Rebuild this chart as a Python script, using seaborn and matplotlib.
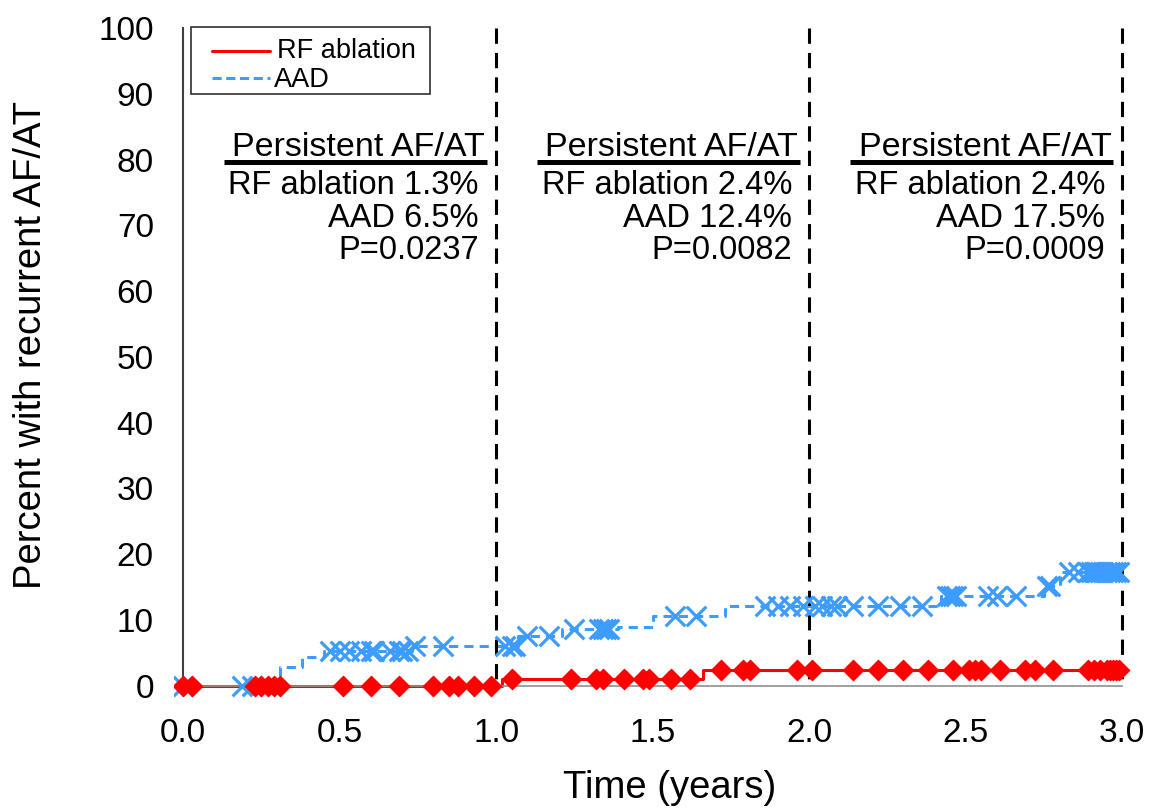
import numpy as np
import matplotlib
matplotlib.use("Agg")
import matplotlib.pyplot as plt
from matplotlib.patches import Rectangle
import seaborn as sns

# -------------------------------
# DATA
# -------------------------------

# step changes of the cumulative curves (years, percent)
rf_step_t = [0.0, 1.02, 1.66, 3.0]
rf_step_y = [0.0, 1.0, 2.4, 2.4]

aad_step_t = [0.0, 0.31, 0.38, 0.45, 0.73, 1.07, 1.21, 1.39, 1.50, 1.73, 2.42, 2.75, 2.80, 3.0]
aad_step_y = [0.0, 2.9, 4.4, 5.3, 6.1, 7.6, 8.7, 9.0, 10.6, 12.2, 13.6, 15.2, 17.3, 17.3]

# censoring times
rf_censor = [0.0, 0.03, 0.23, 0.25, 0.27, 0.29, 0.31, 0.51, 0.60, 0.69, 0.80,
             0.85, 0.88, 0.93, 0.985, 1.05, 1.24, 1.32, 1.34, 1.41, 1.47, 1.49,
             1.56, 1.62, 1.72, 1.79, 1.81, 1.96, 2.01, 2.14, 2.22, 2.30, 2.38,
             2.46, 2.51, 2.53, 2.55, 2.61, 2.69, 2.72, 2.78, 2.89, 2.91, 2.93,
             2.95, 2.96, 2.97, 2.98, 2.99]

aad_censor = [0.0, 0.19, 0.22, 0.47, 0.50, 0.53, 0.57, 0.60, 0.61, 0.66, 0.69,
              0.70, 0.72, 0.74, 0.83, 1.03, 1.05, 1.06, 1.10, 1.17, 1.25, 1.33,
              1.34, 1.35, 1.36, 1.57, 1.64, 1.86, 1.90, 1.94, 1.98, 2.02, 2.04,
              2.07, 2.09, 2.14, 2.22, 2.29, 2.36, 2.44, 2.45, 2.46, 2.47, 2.57,
              2.60, 2.66, 2.76, 2.77, 2.83, 2.86, 2.89, 2.90, 2.91, 2.92, 2.93,
              2.94, 2.95, 2.96, 2.97, 2.98, 2.99]

interval_ends = [1.0, 2.0, 3.0]
rf_rates = ["1.3%", "2.4%", "2.4%"]
aad_rates = ["6.5%", "12.4%", "17.5%"]
p_values = ["0.0237", "0.0082", "0.0009"]

series_names = ["RF ablation", "AAD"]

RED = "#ff0000"
BLUE = "#3d9cff"


def step_value(times, values, t):
    idx = np.searchsorted(times, t, side="right") - 1
    return np.asarray(values)[idx]


# -------------------------------
# PLOT
# -------------------------------

sns.set_style("white")
plt.rcParams["font.family"] = ["Liberation Sans", "DejaVu Sans"]
plt.rcParams["text.color"] = "black"
plt.rcParams["xtick.color"] = "black"
plt.rcParams["ytick.color"] = "black"

fig = plt.figure(figsize=(11.52, 8.09), dpi=100)
ax = fig.add_axes([173.6 / 1152, 1 - 699 / 809, 958 / 1152, 671 / 809])

sns.lineplot(x=aad_step_t, y=aad_step_y, ax=ax, color=BLUE, lw=2.2,
             linestyle=(0, (3, 2)), drawstyle="steps-post", sort=False)
sns.lineplot(x=rf_step_t, y=rf_step_y, ax=ax, color=RED, lw=2.2,
             drawstyle="steps-post", sort=False)

aad_cy = step_value(aad_step_t, aad_step_y, aad_censor)
rf_cy = step_value(rf_step_t, rf_step_y, rf_censor)

sns.scatterplot(x=aad_censor, y=aad_cy, ax=ax, marker="x", s=200,
                color=BLUE, linewidth=2.3, zorder=4)
sns.scatterplot(x=rf_censor, y=rf_cy, ax=ax, marker="D", s=105,
                color=RED, edgecolor=RED, linewidth=1, zorder=5)

# interval separators (drawn top-down so the dash pattern starts at 100)
ax.vlines(interval_ends, 100, 0, colors="black", lw=2.2,
          linestyles=(0, (5, 3)), zorder=3)

# interval annotations
for xe, rf, aad, p in zip(interval_ends, rf_rates, aad_rates, p_values):
    xr = xe - 0.055
    ax.text(xe - 0.035, 80.55, "Persistent AF/AT", ha="right", va="baseline",
            fontsize=24.5)
    ax.plot([xe - 0.87, xe - 0.03], [79.6, 79.6], color="black", lw=3.6,
            solid_capstyle="butt")
    ax.text(xr, 76.0, f"RF ablation {rf}", ha="right", va="center", fontsize=23.5)
    ax.text(xr, 71.1, f"AAD {aad}", ha="right", va="center", fontsize=23.5)
    ax.text(xr, 66.2, f"P={p}", ha="right", va="center", fontsize=23.5)

ax.set_xlim(-0.03, 3.03)
ax.set_ylim(-2, 100)
ax.set_xticks([0.0, 0.5, 1.0, 1.5, 2.0, 2.5, 3.0])
ax.set_xticklabels(["0.0", "0.5", "1.0", "1.5", "2.0", "2.5", "3.0"])
ax.set_yticks(range(0, 101, 10))

for s in ["top", "right"]:
    ax.spines[s].set_visible(False)
ax.spines["left"].set_position(("data", 0))
ax.spines["left"].set_bounds(0, 100)
ax.spines["left"].set_color("#404040")
ax.spines["left"].set_linewidth(1.5)
ax.spines["bottom"].set_position(("data", 0))
ax.spines["bottom"].set_bounds(0, 3)
ax.spines["bottom"].set_color("#909090")
ax.spines["bottom"].set_linewidth(1.2)

ax.tick_params(axis="y", direction="out", length=11, width=1.5, color="#404040",
               pad=10, labelsize=24, labelcolor="black")
ax.tick_params(axis="x", direction="out", length=11.5, width=1.5, color="#404040",
               pad=12, labelsize=24, labelcolor="black")

fig.text(31 / 1152, 1 - 345 / 809, "Percent with recurrent AF/AT", rotation=90,
         ha="center", va="center", fontsize=27.5)
fig.text(670 / 1152, 1 - 788 / 809, "Time (years)", ha="center", va="center",
         fontsize=27.5)

# legend box, drawn by hand in axes fraction
lx0, lx1, ly0, ly1 = 0.0182, 0.2676, 0.9016, 1.0015
ax.add_patch(Rectangle((lx0, ly0), lx1 - lx0, ly1 - ly0, transform=ax.transAxes,
                       fill=False, edgecolor="#303030", lw=1.2, clip_on=False,
                       zorder=6))
ax.plot([0.0401, 0.1006], [0.9657, 0.9657], transform=ax.transAxes, color=RED,
        lw=2.2, clip_on=False, zorder=6)
ax.plot([0.0401, 0.1006], [0.9255, 0.9255], transform=ax.transAxes, color=BLUE,
        lw=2.2, linestyle=(0, (3, 1.5)), clip_on=False, zorder=6)
ax.text(0.1075, 0.9657, series_names[0], transform=ax.transAxes, ha="left",
        va="center", fontsize=19.5)
ax.text(0.1045, 0.9225, series_names[1], transform=ax.transAxes, ha="left",
        va="center", fontsize=19.5)

fig.savefig("out.png", dpi=100)
